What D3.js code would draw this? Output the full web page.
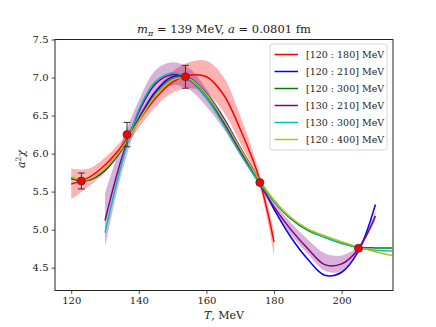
<!DOCTYPE html>
<html>
<head>
<meta charset="utf-8">
<script src="https://cdn.jsdelivr.net/npm/d3@7"></script>
<style>
  body { margin: 0; background: #fff; }
  svg text { fill: #222; }
</style>
</head>
<body>
<div id="chart"></div>
<script>
// fit curves
const tRed = [120, 125, 130, 135, 140, 145, 150, 155, 160, 165, 170, 175, 178, 180];
const red = [5.60, 5.68, 5.85, 6.10, 6.43, 6.73, 6.94, 7.03, 7.01, 6.78, 6.32, 5.76, 5.25, 4.84];
const redHi = [5.80, 5.80, 5.95, 6.18, 6.52, 6.84, 7.08, 7.20, 7.22, 7.01, 6.50, 5.85, 5.35, 4.98];
const redLo = [5.40, 5.56, 5.75, 6.02, 6.34, 6.62, 6.80, 6.86, 6.80, 6.55, 6.14, 5.67, 5.13, 4.66];

const tBlue = [120, 125, 130, 135, 140, 145, 150, 155, 160, 165, 170, 175, 180, 185, 190, 195, 200, 205, 210];
const blue = [5.67, 5.65, 5.78, 6.06, 6.46, 6.82, 7.01, 6.99, 6.79, 6.47, 6.08, 5.70, 5.27, 4.90, 4.61, 4.40, 4.44, 4.72, 5.33];

const tGreen = [120, 125, 130, 135, 140, 145, 150, 155, 160, 165, 170, 175, 180, 185, 190, 195, 200, 205, 210, 215];
const green = [5.68, 5.65, 5.79, 6.07, 6.44, 6.78, 6.98, 6.98, 6.77, 6.44, 6.06, 5.69, 5.37, 5.14, 4.99, 4.90, 4.82, 4.77, 4.76, 4.76];

const tPurple = [130, 135, 140, 145, 150, 155, 160, 165, 170, 175, 180, 185, 190, 195, 200, 205, 210];
const purple = [5.12, 5.95, 6.55, 6.92, 7.04, 6.97, 6.73, 6.41, 6.03, 5.66, 5.30, 5.00, 4.75, 4.54, 4.55, 4.75, 5.18];
const purpleHi = [5.48, 6.15, 6.70, 7.10, 7.20, 7.12, 6.85, 6.50, 6.09, 5.70, 5.36, 5.09, 4.87, 4.69, 4.66, 4.79, 5.24];
const purpleLo = [4.77, 5.75, 6.42, 6.76, 6.90, 6.84, 6.62, 6.33, 5.97, 5.62, 5.25, 4.93, 4.68, 4.46, 4.45, 4.72, 5.12];

const tCyan = [130, 135, 140, 145, 150, 155, 160, 165, 170, 175, 180, 185, 190, 195, 200, 205, 210, 215];
const cyan = [4.96, 5.88, 6.58, 6.95, 7.06, 6.98, 6.73, 6.38, 6.00, 5.66, 5.37, 5.15, 5.00, 4.90, 4.82, 4.76, 4.73, 4.72];

const tYellow = [120, 125, 130, 135, 140, 145, 150, 155, 160, 165, 170, 175, 180, 185, 190, 195, 200, 205, 210, 215];
const yellow = [5.69, 5.66, 5.80, 6.07, 6.43, 6.77, 6.97, 6.98, 6.78, 6.45, 6.07, 5.70, 5.39, 5.16, 5.01, 4.92, 4.84, 4.77, 4.71, 4.66];

// lattice points
const ptT = [123, 136.5, 153.8, 175.8, 205];
const ptV = [5.64, 6.25, 7.01, 5.62, 4.755];
const ptErr = [0.105, 0.16, 0.15, 0.02, 0.02];

const labels = ["[120 : 180] MeV", "[120 : 210] MeV", "[120 : 300] MeV", "[130 : 210] MeV", "[130 : 300] MeV", "[120 : 400] MeV"];
const colors = ["#ff0000", "#0000ff", "#008000", "#800080", "#00bfbf", "#bfbf00"];
const xTicks = [120, 140, 160, 180, 200];
const yTicks = [4.5, 5.0, 5.5, 6.0, 6.5, 7.0, 7.5];

const W = 436, H = 327;
const margin = { top: 39.5, right: 43, bottom: 36.5, left: 55 };
const serif = "DejaVu Serif";

const svg = d3.select("#chart").append("svg")
  .attr("width", W).attr("height", H)
  .attr("font-family", serif);

const x = d3.scaleLinear().domain([115.2, 215.2]).range([margin.left, W - margin.right]);
const y = d3.scaleLinear().domain([4.2, 7.5]).range([H - margin.bottom, margin.top]);

svg.append("clipPath").attr("id", "clip")
  .append("rect")
  .attr("x", margin.left).attr("y", margin.top)
  .attr("width", W - margin.left - margin.right)
  .attr("height", H - margin.top - margin.bottom);

const plot = svg.append("g").attr("clip-path", "url(#clip)");

const line = d3.line().x(d => x(d[0])).y(d => y(d[1])).curve(d3.curveCatmullRom.alpha(0.5));
const band = d3.area().x(d => x(d[0])).y0(d => y(d[1])).y1(d => y(d[2])).curve(d3.curveCatmullRom.alpha(0.5));

// error bands
plot.append("path")
  .datum(tRed.map((t, i) => [t, redLo[i], redHi[i]]))
  .attr("d", band).attr("fill", colors[0]).attr("fill-opacity", 0.3);
plot.append("path")
  .datum(tPurple.map((t, i) => [t, purpleLo[i], purpleHi[i]]))
  .attr("d", band).attr("fill", colors[3]).attr("fill-opacity", 0.3);

const series = [
  [tRed, red], [tBlue, blue], [tGreen, green],
  [tPurple, purple], [tCyan, cyan], [tYellow, yellow]
];

series.forEach(function (s, k) {
  plot.append("path")
    .datum(s[0].map((t, i) => [t, s[1][i]]))
    .attr("d", line)
    .attr("fill", "none")
    .attr("stroke", colors[k])
    .attr("stroke-width", 1.5);
});

// data points with error bars
const pts = plot.append("g").selectAll("g")
  .data(ptT.map((t, i) => ({ t: t, v: ptV[i], e: ptErr[i] })))
  .join("g");
pts.append("line")
  .attr("x1", d => x(d.t)).attr("x2", d => x(d.t))
  .attr("y1", d => y(d.v - d.e)).attr("y2", d => y(d.v + d.e))
  .attr("stroke", "#333").attr("stroke-width", 1);
[-1, 1].forEach(function (s) {
  pts.append("line")
    .attr("x1", d => x(d.t) - 3.5).attr("x2", d => x(d.t) + 3.5)
    .attr("y1", d => y(d.v + s * d.e)).attr("y2", d => y(d.v + s * d.e))
    .attr("stroke", "#333").attr("stroke-width", 1);
});
pts.append("circle")
  .attr("cx", d => x(d.t)).attr("cy", d => y(d.v))
  .attr("r", 4)
  .attr("fill", "#ff0000").attr("stroke", "#333").attr("stroke-width", 0.8);

// axes
const xAxis = svg.append("g")
  .attr("transform", `translate(0, ${H - margin.bottom})`)
  .call(d3.axisBottom(x).tickValues(xTicks).tickSize(3.5).tickPadding(3).tickFormat(d3.format("d")));
const yAxis = svg.append("g")
  .attr("transform", `translate(${margin.left}, 0)`)
  .call(d3.axisLeft(y).tickValues(yTicks).tickSize(3.5).tickPadding(3).tickFormat(d3.format(".1f")));
[xAxis, yAxis].forEach(function (a) {
  a.attr("font-family", serif).attr("font-size", 10);
  a.select(".domain").remove();
  a.selectAll("line").attr("stroke", "#222").attr("stroke-width", 0.8);
  a.selectAll("text").attr("fill", "#333");
});

// frame
svg.append("rect")
  .attr("x", margin.left).attr("y", margin.top)
  .attr("width", W - margin.left - margin.right)
  .attr("height", H - margin.top - margin.bottom)
  .attr("fill", "none").attr("stroke", "#222").attr("stroke-width", 1);

// title
const title = svg.append("text")
  .attr("x", (margin.left + W - margin.right) / 2).attr("y", 33)
  .attr("text-anchor", "middle").attr("font-size", 11.5);
title.append("tspan").attr("font-style", "italic").text("m");
title.append("tspan").attr("font-size", 8).attr("dy", 3).attr("font-style", "italic").text("π");
title.append("tspan").attr("dy", -3).text(" = 139 MeV, ");
title.append("tspan").attr("font-style", "italic").text("a");
title.append("tspan").text(" = 0.0801 fm");

// axis labels
const xl = svg.append("text")
  .attr("x", (margin.left + W - margin.right) / 2).attr("y", 319)
  .attr("text-anchor", "middle").attr("font-size", 11);
xl.append("tspan").attr("font-style", "italic").text("T");
xl.append("tspan").text(", MeV");

const yl = svg.append("text")
  .attr("transform", `translate(25, ${(margin.top + H - margin.bottom) / 2 - 6}) rotate(-90)`)
  .attr("text-anchor", "middle").attr("font-size", 11);
yl.append("tspan").attr("font-style", "italic").text("a");
yl.append("tspan").attr("font-size", 7.5).attr("dy", -4).text("2");
yl.append("tspan").attr("dy", 4).attr("font-style", "italic").text("χ");

// legend
const lg = svg.append("g").attr("transform", "translate(270, 44)");
lg.append("rect")
  .attr("width", 117).attr("height", 106).attr("rx", 2.5)
  .attr("fill", "#fff").attr("fill-opacity", 0.8)
  .attr("stroke", "#ccc").attr("stroke-width", 0.8);
labels.forEach(function (lab, i) {
  const yy = 10.5 + i * 17;
  lg.append("line")
    .attr("x1", 4.5).attr("x2", 28).attr("y1", yy).attr("y2", yy)
    .attr("stroke", colors[i]).attr("stroke-width", 1.5);
  lg.append("text")
    .attr("x", 36).attr("y", yy + 3.5)
    .attr("font-size", 9.5)
    .text(lab);
});
</script>
</body>
</html>
